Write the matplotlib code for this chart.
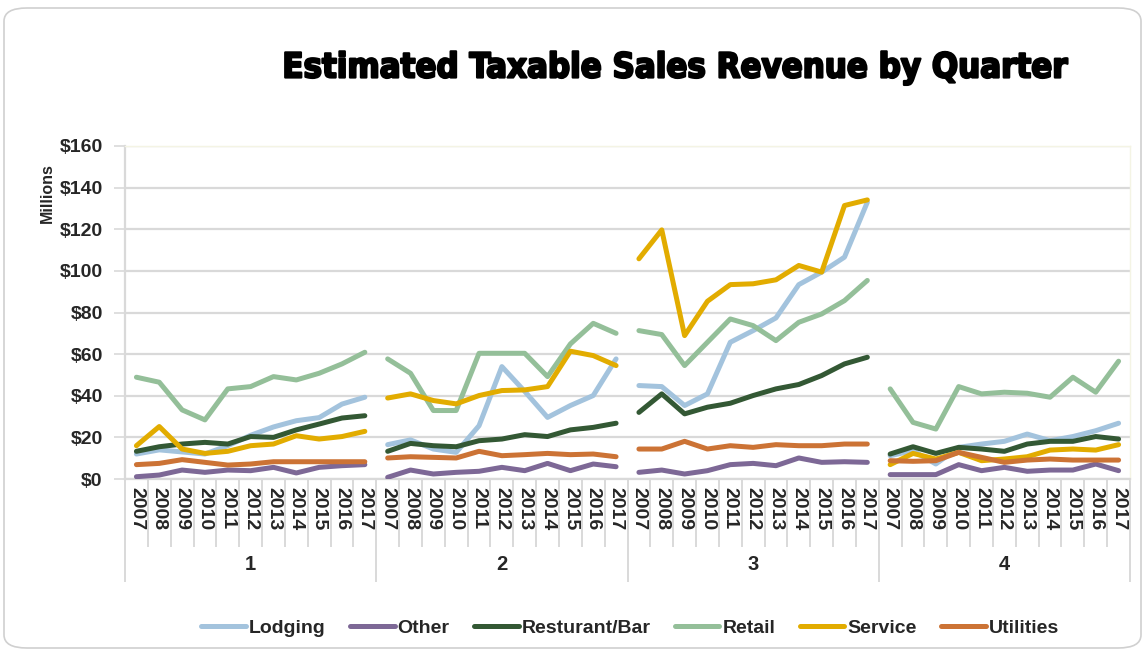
import matplotlib
matplotlib.use("Agg")
import matplotlib.pyplot as plt
from matplotlib.patches import FancyBboxPatch
from matplotlib.lines import Line2D
from matplotlib.ticker import FuncFormatter
import matplotlib.patheffects as pe

# ---- data (millions of dollars), one list per quarter: years 2007..2017 ----
years = [str(y) for y in range(2007, 2018)]
quarters = ["1", "2", "3", "4"]
series_names = ["Lodging", "Other", "Resturant/Bar", "Retail", "Service", "Utilities"]

lodging = [
    [12, 14, 13, 12, 16, 21, 25, 28, 29.5, 36, 39.3],
    [16.5, 18.8, 14.4, 12.8, 25.6, 54, 42.1, 29.6, 35.3, 40.1, 57.7],
    [44.9, 44.4, 35.3, 40.9, 65.7, 71.3, 77.4, 93.4, 99.4, 106.6, 133],
    [11.2, 13.6, 7.2, 15.2, 16.8, 18.1, 21.6, 18.4, 20.4, 23.2, 26.8],
]
other = [
    [1.1, 1.9, 4.3, 3.2, 4.3, 4.0, 5.6, 2.9, 5.6, 6.4, 6.9],
    [0.8, 4.3, 2.4, 3.2, 3.7, 5.6, 4.0, 7.5, 4.0, 7.2, 5.9],
    [3.2, 4.3, 2.4, 4.0, 6.9, 7.5, 6.4, 10.1, 8.0, 8.3, 8.0],
    [2.1, 2.1, 2.1, 6.9, 4.0, 5.6, 3.7, 4.3, 4.3, 7.2, 4.0],
]
restaurant = [
    [13.3, 15.5, 16.8, 17.6, 16.8, 20.4, 20.0, 23.6, 26.4, 29.3, 30.4],
    [13.3, 17.1, 16.0, 15.5, 18.4, 19.2, 21.3, 20.4, 23.6, 24.8, 26.8],
    [32.0, 40.9, 31.3, 34.5, 36.4, 40.1, 43.3, 45.4, 49.7, 55.3, 58.5],
    [12.0, 15.5, 12.3, 15.2, 14.4, 13.3, 16.8, 18.1, 18.1, 20.4, 19.2],
]
retail = [
    [48.9, 46.5, 33.2, 28.4, 43.3, 44.4, 49.2, 47.6, 50.8, 55.3, 60.9],
    [57.7, 50.8, 32.9, 32.9, 60.4, 60.4, 60.4, 49.2, 64.9, 74.8, 70.0],
    [71.3, 69.4, 54.5, 65.7, 76.9, 73.7, 66.5, 75.3, 79.3, 85.7, 95.4],
    [43.3, 27.2, 24.0, 44.4, 40.9, 41.7, 41.2, 39.3, 48.9, 41.7, 56.6],
]
service = [
    [16.0, 25.2, 14.4, 12.3, 13.3, 16.0, 16.8, 20.8, 19.2, 20.4, 22.9],
    [38.9, 40.9, 37.7, 36.1, 40.1, 42.5, 42.8, 44.4, 61.4, 59.3, 54.5],
    [105.8, 119.7, 68.9, 85.4, 93.4, 93.8, 95.7, 102.6, 99.4, 131.4, 134.1],
    [6.9, 12.3, 9.6, 12.8, 8.8, 9.6, 10.7, 13.9, 14.4, 13.9, 16.5],
]
utilities = [
    [6.9, 7.5, 9.3, 8.0, 6.7, 7.2, 8.3, 8.3, 8.3, 8.3, 8.3],
    [10.1, 10.7, 10.4, 10.1, 13.3, 11.2, 11.7, 12.3, 11.7, 12.0, 10.7],
    [14.4, 14.4, 18.1, 14.4, 16.0, 15.2, 16.5, 16.0, 16.0, 16.8, 16.8],
    [8.8, 8.5, 8.8, 12.8, 10.4, 8.0, 9.1, 9.6, 9.1, 9.1, 9.1],
]

series_values = [lodging, other, restaurant, retail, service, utilities]
series_colors = ["#A3C3DD", "#7D6896", "#335834", "#94BF99", "#E2AC00", "#CC7335"]
y_ticks = [0, 20, 40, 60, 80, 100, 120, 140, 160]

plt.rcParams["font.family"] = ["Liberation Sans", "DejaVu Sans"]
txt_color = "#262626"
grid_color = "#D9D9D9"

fig = plt.figure(figsize=(11.46, 6.56), dpi=100)
fig.patch.set_facecolor("white")

# rounded outer frame
frame = FancyBboxPatch((4 / 1146, 8 / 656), 1137 / 1146, 640 / 656,
                       boxstyle="round,pad=0,rounding_size=0.02",
                       transform=fig.transFigure, facecolor="none",
                       edgecolor="#D0D0D0", linewidth=1.2, zorder=-1)
fig.patches.append(frame)

ax = fig.add_axes([125 / 1146, 177 / 656, 1005 / 1146, 333 / 656])
ax.set_facecolor("none")

n_years = len(years)
n_cat = n_years * len(quarters)

for vals, color, name in zip(series_values, series_colors, series_names):
    for q, qvals in enumerate(vals):
        xs = [q * n_years + i for i in range(n_years)]
        ax.plot(xs, qvals, color=color, lw=3.6, solid_capstyle="round",
                solid_joinstyle="round", zorder=3)

ax.set_xlim(-0.5, n_cat - 0.5)
ax.set_ylim(0, 160)
ax.set_yticks(y_ticks)
ax.yaxis.set_major_formatter(FuncFormatter(lambda v, p: f"${v:.0f}"))
ax.grid(axis="y", color=grid_color, lw=1.6, zorder=1)
ax.set_axisbelow(True)
ax.tick_params(axis="y", length=8, width=1.2, color=grid_color, pad=8,
               labelsize=14, labelcolor=txt_color)
for lab in ax.get_yticklabels():
    lab.set_fontweight("bold")

# year tick labels
ax.set_xticks(range(n_cat))
ax.set_xticklabels(years * len(quarters), rotation=-90, fontweight="bold",
                   fontsize=14, color=txt_color)
ax.tick_params(axis="x", length=0, pad=6)

for side in ["top", "right"]:
    ax.spines[side].set_color("#F4F4E4")
    ax.spines[side].set_linewidth(1.0)
ax.spines["bottom"].set_color(grid_color)
ax.spines["bottom"].set_linewidth(1.6)
ax.spines["left"].set_color(grid_color)
ax.spines["left"].set_linewidth(1.6)

# category separators and quarter group separators below the axis
trans = ax.get_xaxis_transform()
for k in range(1, n_cat):
    if k % n_years == 0:
        continue
    ax.plot([k - 0.5, k - 0.5], [0, -0.2], transform=trans, color=grid_color,
            lw=1.4, clip_on=False, zorder=1)
for g in range(len(quarters) + 1):
    xb = g * n_years - 0.5
    ax.plot([xb, xb], [0, -0.305], transform=trans, color=grid_color,
            lw=1.4, clip_on=False, zorder=1)
for g, qlab in enumerate(quarters):
    ax.text(g * n_years + (n_years - 1) / 2, -0.258, qlab, transform=trans,
            ha="center", va="center", fontsize=14.5, fontweight="bold",
            color=txt_color)

# display units label
fig.text(47 / 1146, 1 - 193 / 656, "Millions", rotation=90, ha="center",
         va="center", fontsize=11.5, fontweight="bold", color=txt_color)

# title
fig.text(676 / 1146, 1 - 68 / 656, "Estimated Taxable Sales Revenue by Quarter",
         ha="center", va="center", fontsize=24.8, fontweight="heavy",
         family="DejaVu Sans", fontstretch="condensed", color="black",
         path_effects=[pe.withStroke(linewidth=1.6, foreground="black")])

# legend
handles = [Line2D([0], [0], color=c, lw=3.6, solid_capstyle="round")
           for c in series_colors]
leg = fig.legend(handles, series_names, loc="center", ncol=6,
                 bbox_to_anchor=(630 / 1146, 1 - 628 / 656), frameon=False,
                 prop={"weight": "bold", "size": 14}, handlelength=2.3,
                 handletextpad=0.15, columnspacing=1.25)
for t in leg.get_texts():
    t.set_color(txt_color)

fig.savefig("out.png", dpi=100)
